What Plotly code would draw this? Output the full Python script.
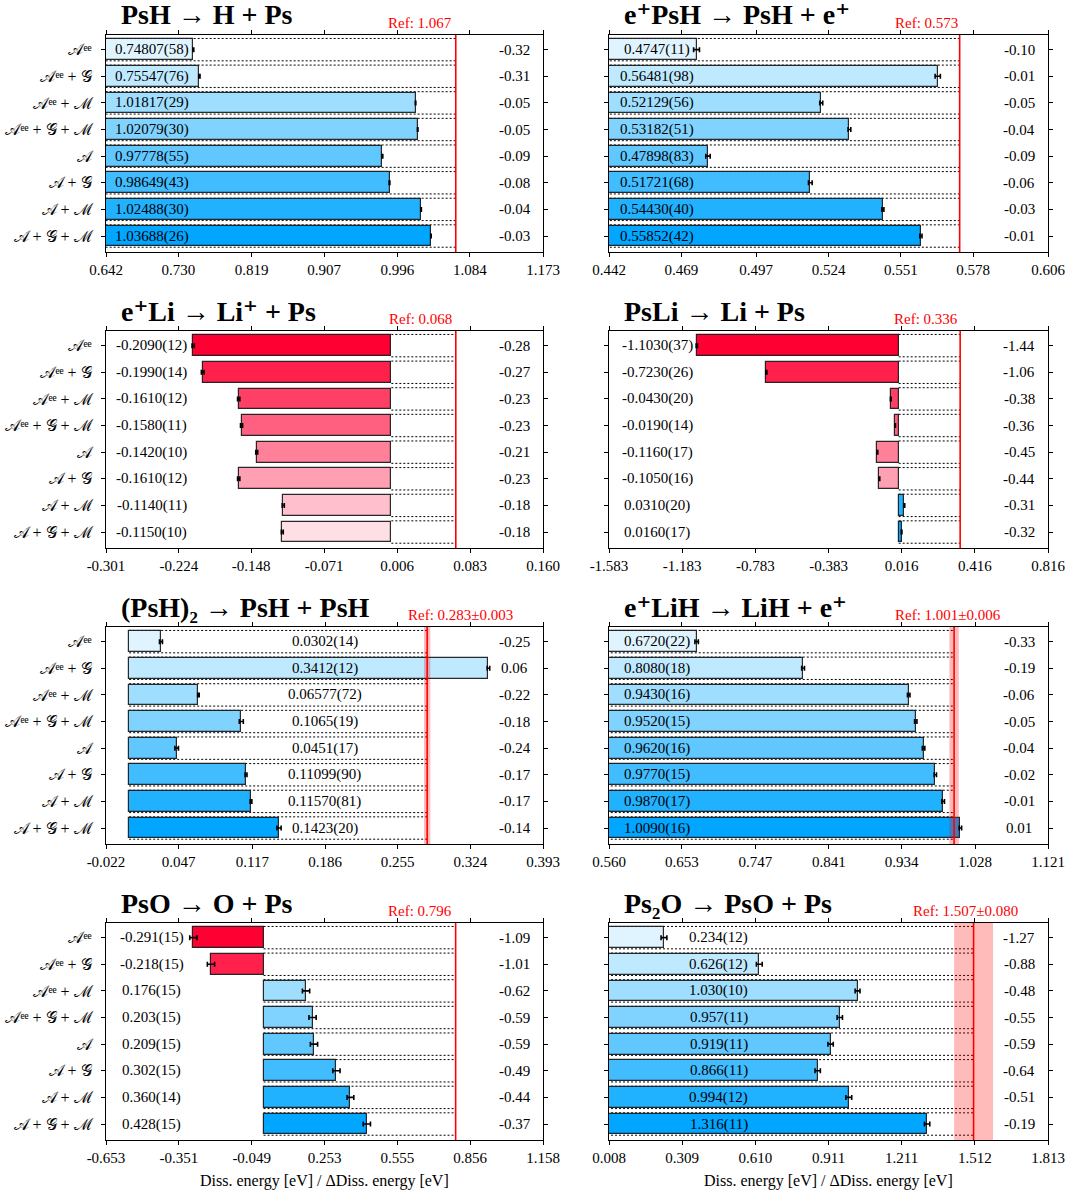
import plotly.graph_objects as go
from decimal import Decimal, ROUND_HALF_UP

# Method combinations shown on every panel (top to bottom)
ROW_LABELS = [
    "𝒜ᵉᵉ",
    "𝒜ᵉᵉ + 𝒢",
    "𝒜ᵉᵉ + ℳ",
    "𝒜ᵉᵉ + 𝒢 + ℳ",
    "𝒜",
    "𝒜 + 𝒢",
    "𝒜 + ℳ",
    "𝒜 + 𝒢 + ℳ",
]

# Dissociation energies in eV, written as value(uncertainty in last digits)
PSH_VALUES = ["0.74807(58)", "0.75547(76)", "1.01817(29)", "1.02079(30)",
              "0.97778(55)", "0.98649(43)", "1.02488(30)", "1.03688(26)"]
EPSH_VALUES = ["0.4747(11)", "0.56481(98)", "0.52129(56)", "0.53182(51)",
               "0.47898(83)", "0.51721(68)", "0.54430(40)", "0.55852(42)"]
ELI_VALUES = ["-0.2090(12)", "-0.1990(14)", "-0.1610(12)", "-0.1580(11)",
              "-0.1420(10)", "-0.1610(12)", "-0.1140(11)", "-0.1150(10)"]
PSLI_VALUES = ["-1.1030(37)", "-0.7230(26)", "-0.0430(20)", "-0.0190(14)",
               "-0.1160(17)", "-0.1050(16)", "0.0310(20)", "0.0160(17)"]
PSH2_VALUES = ["0.0302(14)", "0.3412(12)", "0.06577(72)", "0.1065(19)",
               "0.0451(17)", "0.11099(90)", "0.11570(81)", "0.1423(20)"]
ELIH_VALUES = ["0.6720(22)", "0.8080(18)", "0.9430(16)", "0.9520(15)",
               "0.9620(16)", "0.9770(15)", "0.9870(17)", "1.0090(16)"]
PSO_VALUES = ["-0.291(15)", "-0.218(15)", "0.176(15)", "0.203(15)",
              "0.209(15)", "0.302(15)", "0.360(14)", "0.428(15)"]
PS2O_VALUES = ["0.234(12)", "0.626(12)", "1.030(10)", "0.957(11)",
               "0.919(11)", "0.866(11)", "0.994(12)", "1.316(11)"]

# Reference dissociation energies (value, uncertainty)
PSH_REF = ("1.067", None)
EPSH_REF = ("0.573", None)
ELI_REF = ("0.068", None)
PSLI_REF = ("0.336", None)
PSH2_REF = ("0.283", "0.003")
ELIH_REF = ("1.001", "0.006")
PSO_REF = ("0.796", None)
PS2O_REF = ("1.507", "0.080")

# x-axis tick labels of each panel
PSH_TICKS = ["0.642", "0.730", "0.819", "0.907", "0.996", "1.084", "1.173"]
EPSH_TICKS = ["0.442", "0.469", "0.497", "0.524", "0.551", "0.578", "0.606"]
ELI_TICKS = ["-0.301", "-0.224", "-0.148", "-0.071", "0.006", "0.083", "0.160"]
PSLI_TICKS = ["-1.583", "-1.183", "-0.783", "-0.383", "0.016", "0.416", "0.816"]
PSH2_TICKS = ["-0.022", "0.047", "0.117", "0.186", "0.255", "0.324", "0.393"]
ELIH_TICKS = ["0.560", "0.653", "0.747", "0.841", "0.934", "1.028", "1.121"]
PSO_TICKS = ["-0.653", "-0.351", "-0.049", "0.253", "0.555", "0.856", "1.158"]
PS2O_TICKS = ["0.008", "0.309", "0.610", "0.911", "1.211", "1.512", "1.813"]

TITLES = [
    "PsH → H + Ps",
    "e⁺PsH → PsH + e⁺",
    "e⁺Li → Li⁺ + Ps",
    "PsLi → Li + Ps",
    "(PsH)₂ → PsH + PsH",
    "e⁺LiH → LiH + e⁺",
    "PsO → O + Ps",
    "Ps₂O → PsO + Ps",
]

XLABEL = "Diss. energy [eV] / ΔDiss. energy [eV]"

# panel: (values, reference, ticks, value-label x position, ref-label right edge)
PANELS = [
    (PSH_VALUES, PSH_REF, PSH_TICKS, 0.105, 0.797),
    (EPSH_VALUES, EPSH_REF, EPSH_TICKS, 0.110, 0.800),
    (ELI_VALUES, ELI_REF, ELI_TICKS, 0.105, 0.797),
    (PSLI_VALUES, PSLI_REF, PSLI_TICKS, 0.110, 0.800),
    (PSH2_VALUES, PSH2_REF, PSH2_TICKS, 0.500, 0.937),
    (ELIH_VALUES, ELIH_REF, ELIH_TICKS, 0.110, 0.898),
    (PSO_VALUES, PSO_REF, PSO_TICKS, 0.105, 0.797),
    (PS2O_VALUES, PS2O_REF, PS2O_TICKS, 0.250, 0.936),
]

FONT = "Liberation Serif, DejaVu Serif, serif"
W, H = 1068, 1193

# panel frames in pixels
COL_X = [(106, 543), (609, 1048)]
ROW_TOP = [35, 331, 627, 923]
FRAME_H = 217


def parse(label):
    """'0.74807(58)' -> (0.74807, 0.00058)"""
    num, unc = label.rstrip(")").split("(")
    decimals = len(num.split(".")[1])
    return float(num), int(unc) * 10 ** (-decimals)


def blue(i):
    a = (i + 1) / 8
    return f"rgb({round(255 * (1 - a))},{round(255 * (1 - 0.349 * a))},255)"


def red(i):
    a = (8 - i) / 8
    return f"rgb(255,{round(255 * (1 - a))},{round(255 * (1 - 0.8 * a))})"


fig = go.Figure()
layout = dict(
    width=W, height=H,
    margin=dict(l=0, r=0, t=0, b=0),
    paper_bgcolor="white", plot_bgcolor="white",
    showlegend=False,
    font=dict(family=FONT, size=15, color="black"),
    bargap=0,
)
shapes = []
annotations = []

rows = list(range(8))

for k, (labels, (ref_s, unc_s), ticks, lab_x, ref_x) in enumerate(PANELS):
    n = k + 1
    suffix = "" if n == 1 else str(n)
    xa, ya = "x" + suffix, "y" + suffix
    r, c = divmod(k, 2)
    x0, x1 = COL_X[c]
    top = ROW_TOP[r]
    bot = top + FRAME_H

    vals = [parse(s)[0] for s in labels]
    errs = [parse(s)[1] for s in labels]
    ref = float(ref_s)
    colors = [blue(i) if v >= 0 else red(i) for i, v in enumerate(vals)]

    fig.add_trace(go.Bar(
        x=vals, y=rows, orientation="h", width=0.78,
        marker=dict(color=colors, line=dict(color="rgba(20,20,20,0.9)", width=1.2)),
        error_x=dict(type="data", array=errs, color="black", thickness=1.6, width=2.5),
        xaxis=xa, yaxis=ya, hoverinfo="skip",
    ))

    tickvals = [float(t) for t in ticks]
    layout["xaxis" + suffix] = dict(
        domain=[x0 / W, x1 / W], anchor=ya,
        range=[tickvals[0], tickvals[-1]],
        tickmode="array", tickvals=tickvals, ticktext=ticks,
        ticks="outside", ticklen=4, tickwidth=1, tickcolor="black",
        showline=True, linecolor="black", linewidth=1.3, mirror="ticks",
        showgrid=False, zeroline=False, automargin=False,
        tickfont=dict(size=15, family=FONT),
    )
    layout["yaxis" + suffix] = dict(
        domain=[1 - bot / H, 1 - top / H], anchor=xa,
        range=[7.6, -0.55],
        tickmode="array", tickvals=rows, ticktext=ROW_LABELS,
        showticklabels=(c == 0),
        ticks="outside", ticklen=4, tickwidth=1, tickcolor="black",
        showline=True, linecolor="black", linewidth=1.3, mirror="ticks",
        showgrid=False, zeroline=False, automargin=False,
        ticklabelstandoff=6,
        tickfont=dict(size=16, family=FONT),
    )

    # dotted guides from zero to the reference at both edges of each bar
    for i in rows:
        for dy in (-0.42, 0.42):
            shapes.append(dict(
                type="line", xref=xa, yref=ya, x0=0, x1=ref, y0=i + dy, y1=i + dy,
                line=dict(color="black", width=1, dash="2px,2px"), layer="below",
            ))

    # reference value with its uncertainty band
    if unc_s is not None:
        unc = float(unc_s)
        shapes.append(dict(
            type="rect", xref=xa, yref=ya + " domain", x0=ref - unc, x1=ref + unc,
            y0=0, y1=1, fillcolor="rgba(255,0,0,0.27)", line=dict(width=0), layer="above",
        ))
    shapes.append(dict(
        type="line", xref=xa, yref=ya + " domain", x0=ref, x1=ref, y0=0, y1=1,
        line=dict(color="red", width=1.6), layer="above",
    ))
    ref_text = f"Ref: {ref_s}" + (f"±{unc_s}" if unc_s else "")
    annotations.append(dict(
        text=ref_text, xref=xa + " domain", yref=ya + " domain",
        x=ref_x, y=1, xanchor="right", yanchor="middle", yshift=12,
        showarrow=False, font=dict(color="red", size=15, family=FONT),
    ))

    # panel title
    annotations.append(dict(
        text=f"<b>{TITLES[k]}</b>", xref=xa + " domain", yref=ya + " domain",
        x=0.03, y=1, xanchor="left", yanchor="middle", yshift=20,
        showarrow=False, font=dict(size=28, family=FONT, color="black"),
    ))

    # value labels and deviation from the reference
    for i, s in enumerate(labels):
        annotations.append(dict(
            text=s, xref=xa + " domain", yref=ya, x=lab_x, y=i,
            xanchor="center", yanchor="middle", showarrow=False,
            font=dict(size=15, family=FONT, color="black"),
        ))
        delta = (Decimal(s.split("(")[0]) - Decimal(ref_s)).quantize(
            Decimal("0.01"), rounding=ROUND_HALF_UP)
        annotations.append(dict(
            text=str(delta), xref=xa + " domain", yref=ya, x=0.935, y=i,
            xanchor="center", yanchor="middle", showarrow=False,
            font=dict(size=15, family=FONT, color="black"),
        ))

    if r == 3:
        annotations.append(dict(
            text=XLABEL, xref=xa + " domain", yref="paper",
            x=0.5, y=1 - 1181 / H, xanchor="center", yanchor="middle",
            showarrow=False, font=dict(size=16, family=FONT, color="black"),
        ))

layout["shapes"] = shapes
layout["annotations"] = annotations
fig.update_layout(**layout)

fig.write_html("out.html")
